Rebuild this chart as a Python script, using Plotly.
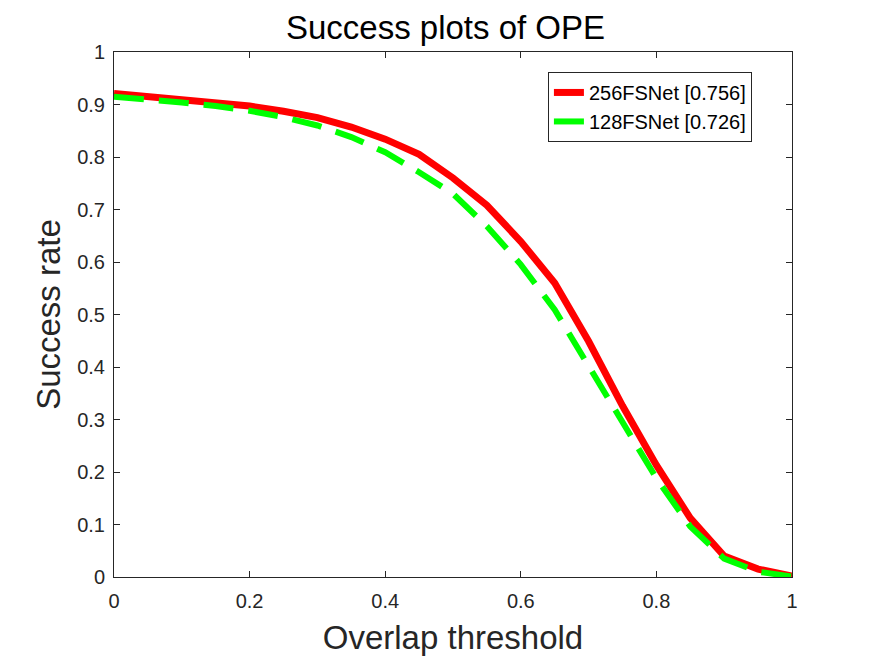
import plotly.graph_objects as go

thresholds = [i / 20 for i in range(21)]
rate_256 = [0.921, 0.915, 0.908, 0.903, 0.897, 0.887, 0.875, 0.857, 0.834, 0.805,
            0.760, 0.708, 0.639, 0.560, 0.449, 0.326, 0.213, 0.112, 0.040, 0.015, 0.002]
rate_128 = [0.915, 0.910, 0.904, 0.897, 0.888, 0.876, 0.860, 0.838, 0.809, 0.771,
            0.730, 0.668, 0.595, 0.509, 0.401, 0.296, 0.188, 0.096, 0.035, 0.010, 0.001]
names = ["256FSNet [0.756]", "128FSNet [0.726]"]

axis_col = "#262626"
font_fam = "Liberation Sans, Arial"
fig = go.Figure()
fig.add_trace(go.Scatter(x=thresholds, y=rate_256, mode="lines", name=names[0],
                         line=dict(color="#ff0000", width=7)))
fig.add_trace(go.Scatter(x=thresholds, y=rate_128, mode="lines", name=names[1],
                         line=dict(color="#00ff00", width=6, dash="30px,15px")))

common = dict(showgrid=False, zeroline=False, showline=True, linecolor=axis_col, linewidth=1,
              mirror="ticks", ticks="inside", ticklen=6, tickcolor=axis_col,
              tickfont=dict(family=font_fam, size=20, color=axis_col))
fig.update_layout(
    width=875, height=656,
    paper_bgcolor="white", plot_bgcolor="white",
    margin=dict(l=106, r=91, t=44, b=87),
    title=dict(text="Success plots of OPE", x=0.5, xanchor="center", y=0.971, yanchor="middle",
               font=dict(family=font_fam, size=33, color="black")),
    xaxis=dict(range=[0, 1], tickvals=[0, 0.2, 0.4, 0.6, 0.8, 1], ticklabelstandoff=6,
               title=dict(text="Overlap threshold", standoff=14,
                          font=dict(family=font_fam, size=33, color=axis_col)),
               **common),
    yaxis=dict(range=[0, 1], tickvals=[i / 10 for i in range(11)], ticklabelstandoff=4,
               title=dict(text="Success rate", standoff=6,
                          font=dict(family=font_fam, size=33, color=axis_col)),
               **common),
    legend=dict(x=0.64, y=0.962, xanchor="left", yanchor="top",
                bgcolor="white", bordercolor=axis_col, borderwidth=1,
                font=dict(family=font_fam, size=20, color="black"),
                tracegroupgap=0),
    showlegend=True,
)
fig.write_html("out.html")
